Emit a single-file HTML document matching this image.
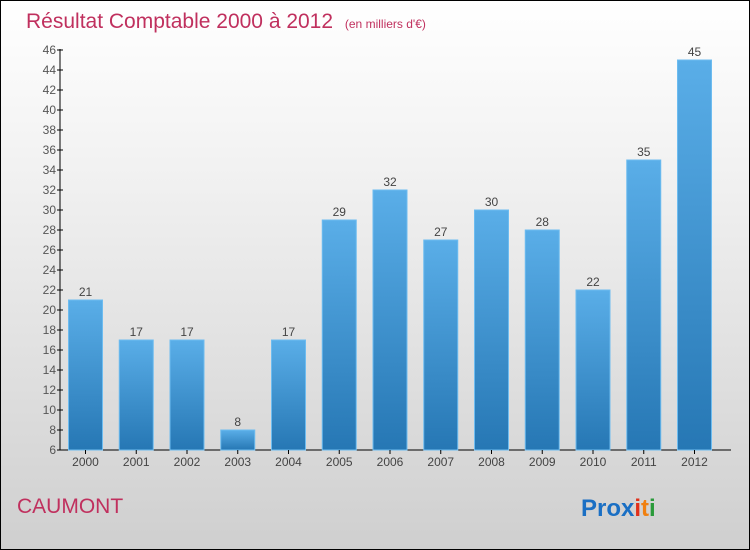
<!DOCTYPE html>
<html><head><meta charset="utf-8"><style>
body{margin:0}
#c{position:relative;width:748px;height:548px;border:1px solid #000;background:linear-gradient(#fff,#f2f2f2 30%,#cfcfcf);overflow:hidden;font-family:"Liberation Sans",sans-serif}
</style></head><body>
<div id="c">
<svg width="748" height="548" id="svg">
<defs><linearGradient id="bg" x1="0" y1="0" x2="0" y2="1"><stop offset="0" stop-color="#5aaee8"/><stop offset="1" stop-color="#2677b4"/></linearGradient></defs>
<text x="25" y="27" font-size="21" fill="#c0305e">Résultat Comptable 2000 à 2012 <tspan font-size="12" dx="6">(en milliers d'€)</tspan></text>
<g id="plot"></g>
<text x="16" y="512" font-size="21" fill="#c0305e">CAUMONT</text>
<text x="580" y="515" font-size="24" font-weight="bold"><tspan fill="#1a6fc4">Pro</tspan><tspan fill="#1a6fc4">x</tspan><tspan fill="#e0301a">i</tspan><tspan fill="#f08010">t</tspan><tspan fill="#2a9a3a">i</tspan></text>
</svg></div>
<script>
const categories=["2000","2001","2002","2003","2004","2005","2006","2007","2008","2009","2010","2011","2012"];
const values=[21,17,17,8,17,29,32,27,30,28,22,35,45];
const ticks=[6,8,10,12,14,16,18,20,22,24,26,28,30,32,34,36,38,40,42,44,46];
const NS="http://www.w3.org/2000/svg";
const g=document.getElementById('plot');
const y=v=>449-(v-6)*10;
const x=i=>84.5+i*50.75;
function mk(t,a){const e=document.createElementNS(NS,t);for(const k in a)e.setAttribute(k,a[k]);g.appendChild(e);return e;}
let ax=mk('line',{x1:59,y1:48,x2:59,y2:449,stroke:'#000'});


let bx=mk('line',{x1:59,y1:449,x2:730,y2:449,stroke:'#000'});


ticks.forEach(t=>{
 let l=mk('line',{x1:56,x2:62,y1:y(t),y2:y(t),stroke:'#000'});
 
 
 let tx=mk('text',{x:55,y:y(t)+4,'text-anchor':'end','font-size':12,fill:'#555'});
 tx.textContent=t;
 
 
});
categories.forEach((c,i)=>{
 let r=mk('rect',{x:x(i)-17,y:y(values[i]),width:34,height:y(6)-y(values[i]),fill:'url(#bg)',stroke:'#6dbcf0','stroke-width':1});
 
 
 let v=mk('text',{x:x(i),y:y(values[i])-4,'text-anchor':'middle','font-size':12,fill:'#444'});
 v.textContent=values[i];
 
 
 let tk=mk('line',{x1:x(i),x2:x(i),y1:449,y2:453,stroke:'#000'});
 
 
 let lb=mk('text',{x:x(i),y:465,'text-anchor':'middle','font-size':12,fill:'#444'});
 lb.textContent=c;
 
 
});
</script>
</body></html>
